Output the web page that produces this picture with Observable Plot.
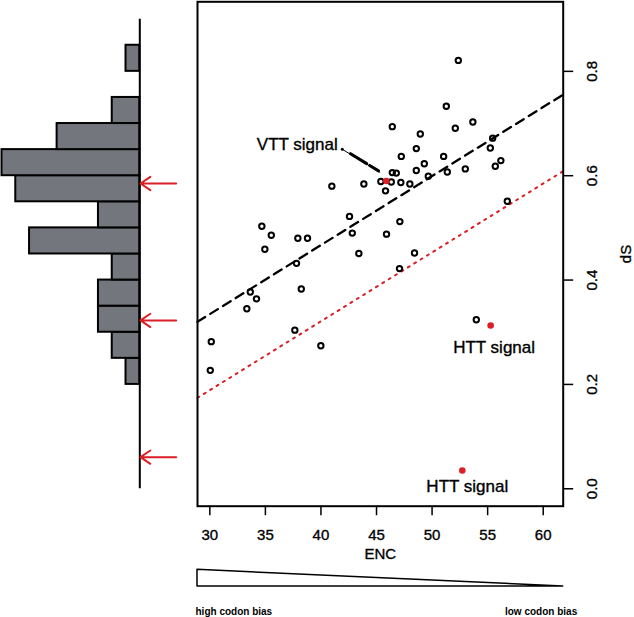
<!DOCTYPE html>
<html><head><meta charset="utf-8">
<script src="https://cdn.jsdelivr.net/npm/d3@7"></script>
<script src="https://cdn.jsdelivr.net/npm/@observablehq/plot@0.6"></script>
<style>
html,body{margin:0;padding:0;background:#fff;}
#wrap{position:relative;width:634px;height:617px;overflow:hidden;background:#fff;}
#wrap > svg{position:absolute;margin:0;}
</style></head><body><div id="wrap"></div>
<script>
// ---- data ----
const enc = [52.36,51.28,46.42,52.09,53.67,48.94,55.45,55.24,48.58,47.23,
             51.04,49.30,56.19,55.69,48.58,52.99,49.66,51.37,46.42,46.78,
             45.39,46.33,47.19,48.00,45.81,43.86,40.98,56.77,47.10,42.57,
             45.90,42.82,34.68,35.53,37.92,38.79,34.95,43.41,48.42,47.07,
             37.80,33.64,34.20,38.23,33.33,37.65,53.98,30.13,39.99,30.04];
const ds  = [0.821,0.733,0.694,0.691,0.703,0.680,0.672,0.653,0.652,0.637,
             0.637,0.623,0.629,0.618,0.610,0.613,0.599,0.607,0.606,0.605,
             0.589,0.588,0.587,0.584,0.571,0.584,0.580,0.551,0.512,0.522,
             0.488,0.490,0.503,0.486,0.480,0.480,0.459,0.451,0.452,0.422,
             0.432,0.377,0.364,0.383,0.345,0.304,0.324,0.282,0.274,0.227];
const sigEnc = [45.88, 55.27, 52.72];
const sigDs  = [0.590, 0.313, 0.035];
const labels   = ["VTT signal", "HTT signal", "HTT signal"];
const labelEnc = [37.87, 55.58, 53.17];
const labelDs  = [0.660, 0.2715, 0.0038];
const leaderEnc = [41.92, 45.30], leaderDs = [0.6506, 0.6068];
const leaderThickEnc = [42.66, 45.18], leaderThickDs = [0.6422, 0.6093];
const fitIntercept = -0.0622, fitSlope = 0.01323;   // dashed black line
const lowIntercept = -0.207,  lowSlope = 0.0132;    // dotted red line
const xTicks = [30, 35, 40, 45, 50, 55, 60];
const yTicks = [0, 0.2, 0.4, 0.6, 0.8];
const yTickLabels = ["0.0", "0.2", "0.4", "0.6", "0.8"];
const histThresholds = [0.25,0.30,0.35,0.40,0.45,0.50,0.55,0.60,0.65,0.70,0.75,0.80];
const histDomain = [0.2, 0.85];
const arrowDs = [0.585, 0.3227, 0.0606];
const gaugeBias = [1, 0];   // high codon bias at low ENC, low at high ENC
const gaugeLabels = ["high codon bias", "low codon bias"];

// ---- layout ----
const FONT = '"Liberation Sans", Arial, Helvetica, sans-serif';
const RED = "#dc1e26";
const xDomain = [28.89, 61.8];
const yDomain = [-0.0334, 0.9333];
const M = {top: 1.3, bottom: 54.3};
const TXT = {stroke: "black", strokeWidth: 0.35, fill: "black", lineAnchor: "middle"};

const pts = enc.map((e, i) => ({enc: e, ds: ds[i]}));
const sig = sigEnc.map((e, i) => ({enc: e, ds: sigDs[i]}));
const lab = labels.map((t, i) => ({t, enc: labelEnc[i], ds: labelDs[i]}));
const fitLine = xDomain.map(x => ({enc: x, ds: fitIntercept + fitSlope * x}));
const lowLine = xDomain.map(x => ({enc: x, ds: lowIntercept + lowSlope * x}));
const leader = leaderEnc.map((e, i) => ({enc: e, ds: leaderDs[i]}));
const leaderThick = leaderThickEnc.map((e, i) => ({enc: e, ds: leaderThickDs[i]}));

const scatter = Plot.plot({
  width: 454, height: 560,
  marginLeft: 17, marginRight: 71.3, marginTop: M.top, marginBottom: M.bottom,
  x: {domain: xDomain, axis: null},
  y: {domain: yDomain, axis: null},
  style: {fontFamily: FONT, background: "transparent", overflow: "visible"},
  marks: [
    Plot.axisX({ticks: xTicks, tickSize: 9.5, tickFormat: () => "", label: null, strokeWidth: 1.5}),
    Plot.text(xTicks, {...TXT, x: d => d, frameAnchor: "bottom", dy: 29, text: d => String(d), fontSize: 15, textAnchor: "middle"}),
    Plot.text(["ENC"], {...TXT, frameAnchor: "bottom", dy: 48, fontSize: 15, textAnchor: "middle"}),
    Plot.axisY({anchor: "right", ticks: yTicks, tickSize: 9.5, tickFormat: () => "", label: null, strokeWidth: 1.5}),
    Plot.text(yTicks, {...TXT, y: d => d, frameAnchor: "right", dx: 28.5, rotate: -90, text: (d, i) => yTickLabels[i], fontSize: 15, textAnchor: "middle"}),
    Plot.text(["dS"], {...TXT, frameAnchor: "right", dx: 63, rotate: -90, fontSize: 15, textAnchor: "middle"}),
    Plot.line(lowLine, {x: "enc", y: "ds", stroke: RED, strokeWidth: 2, strokeDasharray: "2,5.5"}),
    Plot.line(fitLine, {x: "enc", y: "ds", stroke: "black", strokeWidth: 2.3, strokeDasharray: "9,6"}),
    Plot.line(leader, {x: "enc", y: "ds", stroke: "black", strokeWidth: 1}),
    Plot.line(leaderThick, {x: "enc", y: "ds", stroke: "black", strokeWidth: 3, strokeDasharray: "19,3.5"}),
    Plot.dot(leader.slice(0, 1), {x: "enc", y: "ds", r: 1.5, fill: "black"}),
    Plot.dot(pts, {x: "enc", y: "ds", r: 2.7, stroke: "black", strokeWidth: 2, fill: "none"}),
    Plot.dot(sig, {x: "enc", y: "ds", r: 3.3, fill: RED}),
    Plot.text(lab, {...TXT, x: "enc", y: "ds", text: "t", fontSize: 17, textAnchor: "middle"}),
    Plot.frame({stroke: "black", strokeWidth: 2})
  ]
});
scatter.style.left = "180px"; scatter.style.top = "0px";

const bins = d3.bin().domain(histDomain).thresholds(histThresholds)(ds).filter(b => b.length > 0);

const hist = Plot.plot({
  width: 180, height: 560,
  marginLeft: 1.5, marginRight: 40.7, marginTop: M.top, marginBottom: M.bottom,
  x: {domain: [0, 10], reverse: true, axis: null},
  y: {domain: yDomain, axis: null},
  style: {fontFamily: FONT, background: "transparent", overflow: "visible"},
  marks: [
    Plot.rectX(bins, {x1: () => 0, x2: b => b.length, y1: b => b.x0, y2: b => b.x1, inset: 0, fill: "#73767d", stroke: "black", strokeWidth: 2}),
    Plot.ruleX([0], {y1: () => 0, y2: () => 0.9, stroke: "black", strokeWidth: 2}),
    Plot.arrow(arrowDs, {x1: () => -2.64, x2: () => -0.05, y1: d => d, y2: d => d, stroke: RED, strokeWidth: 2, headLength: 10, headAngle: 68})
  ]
});
hist.style.left = "0px"; hist.style.top = "0px";

const gauge = xDomain.map((x, i) => ({enc: x, bias: gaugeBias[i]}));
const wedge = Plot.plot({
  width: 454, height: 57,
  marginLeft: 17, marginRight: 71.3, marginTop: 9.3, marginBottom: 31,
  x: {domain: xDomain, axis: null},
  y: {domain: [0, 1], axis: null},
  style: {fontFamily: FONT, background: "transparent", overflow: "visible"},
  marks: [
    Plot.areaY(gauge, {x: "enc", y: "bias", fill: "white", stroke: "black", strokeWidth: 1.5}),
    Plot.text([gaugeLabels[0]], {frameAnchor: "bottom-left", dx: -2, dy: 25.7, textAnchor: "start", lineAnchor: "middle", fontWeight: "bold", fontSize: 10}),
    Plot.text([gaugeLabels[1]], {frameAnchor: "bottom-right", dx: 14, dy: 25.7, textAnchor: "end", lineAnchor: "middle", fontWeight: "bold", fontSize: 10})
  ]
});
wedge.style.left = "180px"; wedge.style.top = "560px";

const wrap = document.getElementById("wrap");
wrap.appendChild(hist);
wrap.appendChild(scatter);
wrap.appendChild(wedge);
</script>
</body></html>
